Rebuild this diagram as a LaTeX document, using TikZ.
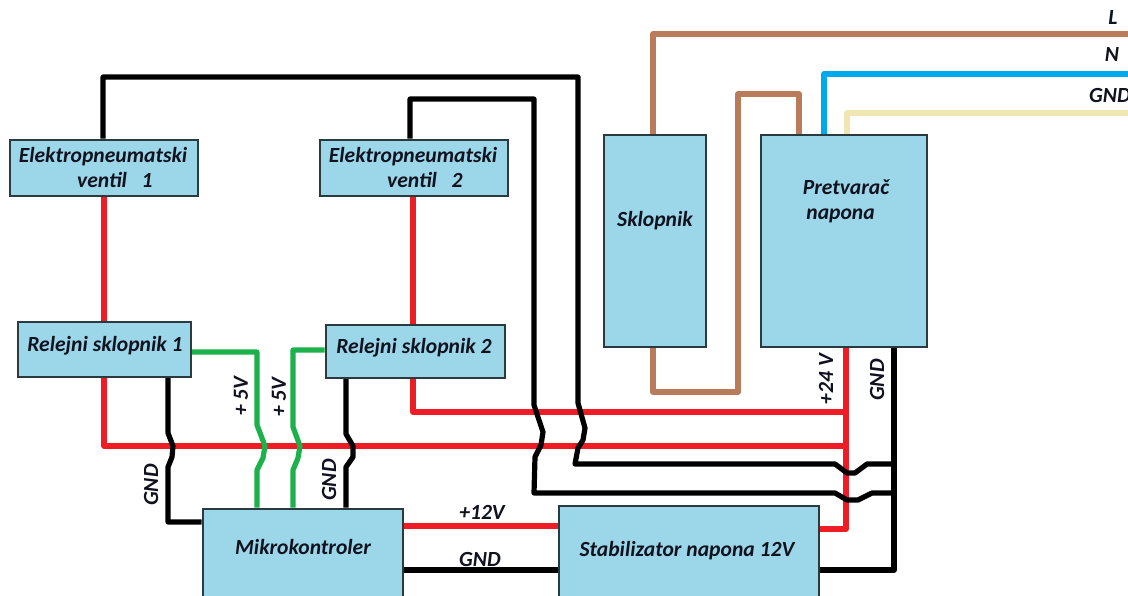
\documentclass[tikz,border=0pt]{standalone}
\usepackage{fontspec}
\setmainfont{Carlito}
\usetikzlibrary{backgrounds,positioning}
\definecolor{boxfill}{HTML}{9BD7E9}
\definecolor{boxline}{HTML}{2B3A3E}
\definecolor{wbrown}{HTML}{B97B5A}
\definecolor{wblue}{HTML}{00A8EC}
\definecolor{wcream}{HTML}{F0E6B4}
\definecolor{wred}{HTML}{EE1C25}
\definecolor{wgreen}{HTML}{1DB14B}
\definecolor{txtc}{HTML}{10131F}
\begin{document}
\begin{tikzpicture}[x=0.75pt,y=-0.75pt,
  box/.style={draw=boxline,fill=boxfill,line width=1.5pt,inner sep=0pt,anchor=north west},
  txt/.style={font=\fontsize{16.2pt}{19pt}\selectfont\bfseries\itshape,text=txtc,align=center,inner sep=0pt},
  wire/.style={line width=3.9pt,line join=round},
  brownw/.style={wire,wbrown},
  bluew/.style={wire,wblue},
  creamw/.style={wire,wcream},
  redw/.style={wire,wred},
  greenw/.style={wire,wgreen},
  blackw/.style={wire,black}]
\useasboundingbox (0,0) rectangle (1128,596);
\clip (0,0) rectangle (1128,596);
% boxes
\node[box,minimum width=141pt,minimum height=42pt] (ev1) at (8.5,138.5) {};
\node[box,minimum width=141pt,minimum height=42pt] (ev2) at (318.5,138.5) {};
\node[box,minimum width=76.5pt,minimum height=159pt] (sk) at (602.5,133.5) {};
\node[box,minimum width=124.5pt,minimum height=159pt] (pn) at (759.5,133.5) {};
\node[box,minimum width=129.75pt,minimum height=41.25pt] (rs1) at (16.5,320.5) {};
\node[box,minimum width=134.25pt,minimum height=39.75pt] (rs2) at (324.5,323.5) {};
\node[box,minimum width=150pt,minimum height=72pt] (mk) at (201.5,507.5) {};
\node[box,minimum width=195pt,minimum height=72pt] (st) at (557.5,504.5) {};
% line ends on the right border
\coordinate (eL) at (1140,34);
\coordinate (eN) at (1140,74);
\coordinate (eG) at (1140,113);
% box texts
\node[txt] (tev1) at (103,167.5) {Elektropneumatski\\\hspace*{1.1em}ventil\ \ \ 1};
\node[txt] (tev2) at (413,167.5) {Elektropneumatski\\\hspace*{1.1em}ventil\ \ \ 2};
\node[txt] (tsk) at (655,221) {Sklopnik};
\node[txt] (tpn) at (846,201) {Pretvarač\\\hspace*{-.5em}napona};
\node[txt] (trs1) at (105,346) {Relejni sklopnik 1};
\node[txt] (trs2) at (414,348) {Relejni sklopnik 2};
\node[txt] (tmk) at (303,547) {Mikrokontroler};
\node[txt] (tst) at (687,551) {Stabilizator napona 12V};
% wire labels
\node[txt] (lL) at (1113,17) {L};
\node[txt] (lN) at (1112,54) {N};
\node[txt] (lG) at (1110,95) {GND};
\node[txt,rotate=90] (l5a) at (241,396) {+ 5V};
\node[txt,rotate=90] (l5b) at (279,397) {+ 5V};
\node[txt,rotate=90] (lg1) at (151,485) {GND};
\node[txt,rotate=90] (lg2) at (329,480) {GND};
\node[txt,rotate=90] (l24) at (826,379) {+24 V};
\node[txt,rotate=90] (lg3) at (877,380) {GND};
\node[txt] (l12) at (482,512) {+12V};
\node[txt] (lg4) at (480,559) {GND};
\begin{pgfonlayer}{background}
\fill[white] (0,0) rectangle (1128,596);
% mains
\draw[brownw] (653,0 |- sk.north) |- (eL);
\draw[brownw] (653,0 |- sk.south) |- (738,392) |- (799,94) -- (799,0 |- pn.north);
\draw[bluew] (824,0 |- pn.north) |- (eN);
\draw[creamw] (847,0 |- pn.north) |- (eG);
% valves to relays
\draw[redw] (104,0 |- ev1.south) -- (104,0 |- rs1.north);
\draw[redw] (413,0 |- ev2.south) -- (413,0 |- rs2.north);
% red supply lines
\draw[redw] (846,0 |- pn.south) |- (st.east |- 0,529);
\draw[redw] (104,0 |- rs1.south) |- (846,446);
\draw[redw] (413,0 |- rs2.south) |- (846,412);
\draw[redw] (mk.east |- 0,526) -- (st.west |- 0,526);
% black ground lines
\draw[blackw] (894,0 |- pn.south) |- (st.east |- 0,570);
\draw[blackw] (mk.east |- 0,570) -- (st.west |- 0,570);
\draw[blackw] (103,0 |- ev1.north) |- (578,77) -- (578,403) -- (585,428) -- (583,440) -- (578,448) -- (575,464) -- (835,464) -- (847,473) -- (855,473) -- (867,464) -- (894,464);
\draw[blackw] (410,0 |- ev2.north) |- (534,99) -- (534,405) -- (543,432) -- (541,445) -- (535,457) -- (534,493) -- (835,493) -- (847,500) -- (858,500) -- (872,493) -- (894,493);
\draw[blackw] (168,0 |- rs1.south) -- (168,433) -- (173,446) -- (172,457) -- (168,467) -- (168,522) -- (mk.west |- 0,522);
\draw[blackw] (346,0 |- rs2.south) -- (346,434) -- (353,446) -- (353,457) -- (346,467) -- (346,0 |- mk.north);
% green lines
\draw[greenw] (rs1.east |- 0,352) -- (257,352) -- (257,425) -- (265,446) -- (263,458) -- (257,470) -- (257,0 |- mk.north);
\draw[greenw] (rs2.west |- 0,350) -- (293,350) -- (293,427) -- (300,446) -- (298,458) -- (293,470) -- (293,0 |- mk.north);
\end{pgfonlayer}
\end{tikzpicture}
\end{document}
